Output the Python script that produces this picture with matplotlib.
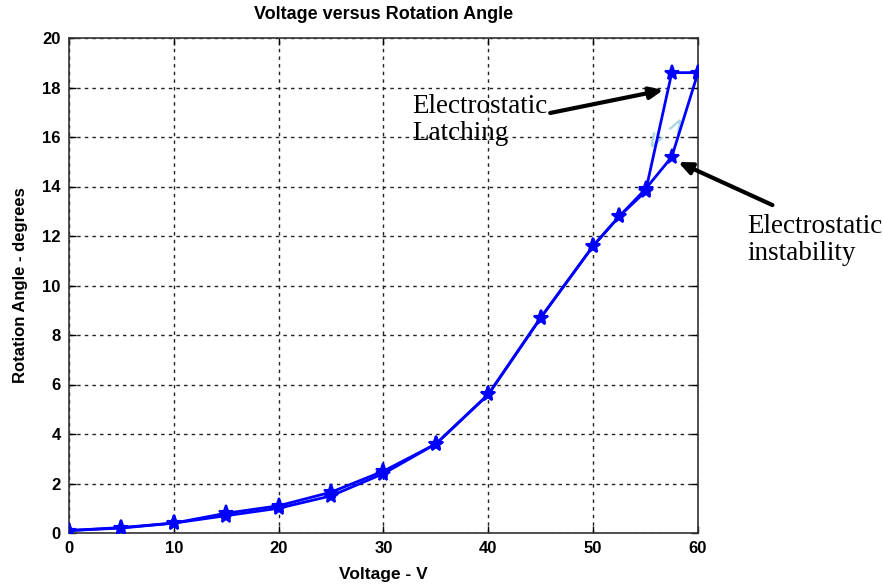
import matplotlib
matplotlib.use("Agg")
import matplotlib.pyplot as plt

# Data
volt_up = [0, 5, 10, 15, 20, 25, 30, 35, 40, 45, 50, 52.5, 55, 57.5, 60]
angle_up = [0.1, 0.22, 0.4, 0.8, 1.1, 1.65, 2.5, 3.6, 5.6, 8.7, 11.6, 12.8, 13.9, 15.2, 18.6]
volt_down = [60, 57.5, 55, 52.5, 50, 45, 40, 35, 30, 25, 20, 15, 10, 5, 0]
angle_down = [18.6, 18.6, 13.8, 12.8, 11.6, 8.7, 5.6, 3.6, 2.4, 1.5, 1.0, 0.7, 0.4, 0.2, 0.1]

x_ticks = [0, 10, 20, 30, 40, 50, 60]
y_ticks = [0, 2, 4, 6, 8, 10, 12, 14, 16, 18, 20]

title = "Voltage versus Rotation Angle"
xlabel = "Voltage - V"
ylabel = "Rotation Angle - degrees"

fig = plt.figure(figsize=(8.83, 5.86), dpi=100)
ax = fig.add_axes([69/883, 1-533/586, (698-69)/883, (533-38)/586])

for xs, ys in [(volt_up, angle_up), (volt_down, angle_down)]:
    ax.plot(xs, ys, color="#0000ff", linewidth=2, marker="*", markersize=11,
            markeredgewidth=1.5, zorder=3)

ax.set_xlim(0, 60)
ax.set_ylim(0, 20)
ax.set_xticks(x_ticks)
ax.set_yticks(y_ticks)
ax.grid(True, color="#222222", linestyle=(0, (2.5, 3)), linewidth=1)
ax.tick_params(direction="in", top=True, right=True, length=5, width=1, pad=6)
for lab in ax.get_xticklabels() + ax.get_yticklabels():
    lab.set_fontweight("bold")
    lab.set_fontsize(12)
    lab.set_fontfamily("Liberation Sans")
for s in ax.spines.values():
    s.set_linewidth(1.2)
    s.set_color("#333333")

ax.set_title(title, fontsize=13, fontweight="bold", family="Liberation Sans", pad=14)
ax.set_xlabel(xlabel, fontsize=12.5, fontweight="bold", family="Liberation Sans", labelpad=8)
ax.set_ylabel(ylabel, fontsize=12, fontweight="bold", family="Liberation Sans", labelpad=10)

# Annotations
arrow_kw = dict(arrowstyle="-|>,head_length=0.8,head_width=0.35", color="black",
                lw=3, shrinkA=0, shrinkB=0)
ax.text(32.7, 17.72, "Electrostatic\nLatching", fontsize=19.5, family="Liberation Serif",
        ha="left", va="top", linespacing=1.1, clip_on=False)
ax.annotate("", xy=(56.7, 17.9), xytext=(45.9, 16.97), annotation_clip=False,
            arrowprops=arrow_kw)
ax.text(64.7, 12.87, "Electrostatic\ninstability", fontsize=19.5, family="Liberation Serif",
        ha="left", va="top", linespacing=1.1, clip_on=False)
ax.annotate("", xy=(58.1, 14.99), xytext=(67.1, 13.25), annotation_clip=False,
            arrowprops=arrow_kw)

# faint direction chevrons
ax.text(56.0, 15.9, "<", color="#a8d8e0", fontsize=16, fontweight="bold",
        rotation=60, ha="center", va="center", zorder=2)
ax.text(58.1, 16.5, ">", color="#a8d8e0", fontsize=16, fontweight="bold",
        rotation=60, ha="center", va="center", zorder=2)

fig.savefig("out.png", dpi=100)
